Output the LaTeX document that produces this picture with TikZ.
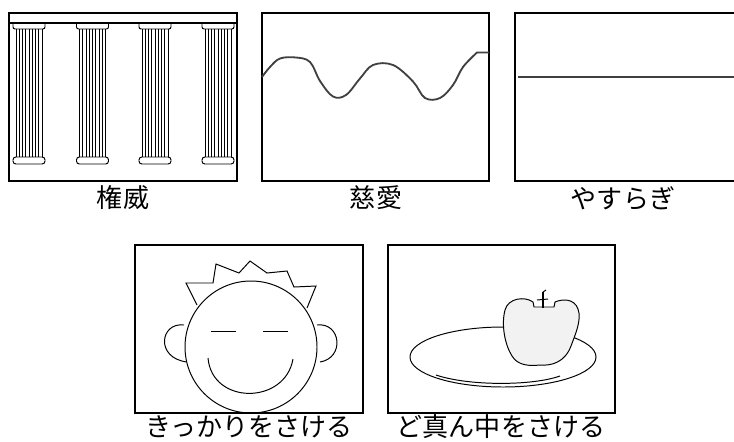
\documentclass[tikz,border=0pt]{standalone}
\usepackage{fontspec}
\newfontfamily\jpfont{Noto Sans CJK JP}
\usetikzlibrary{calc}

\begin{document}
\begin{tikzpicture}[x=0.025cm,y=-0.025cm,
    frame/.style={draw=black,line width=1.4pt},
    pen/.style={draw=black,line width=0.7pt},
    wave/.style={draw=black!75,line width=1.3pt},
    caption/.style={font=\jpfont\fontsize{18.5}{22}\selectfont}]
  \useasboundingbox (0,0) rectangle (734,441);

  % temple with four columns
  \draw[frame] (9,13) rectangle (237,181);
  \draw[pen,line width=1pt] (9,23) -- (237,23);
  \foreach \cx in {29,92.5,155,218} {
    \draw[pen,rounded corners=1.5] (\cx-16,23) -- (\cx-16,29) -- (\cx+16,29) -- (\cx+16,23);
    \foreach \dx in {-13,-9.75,...,13}
      \draw[pen,line width=0.65pt] (\cx+\dx,29) -- (\cx+\dx,157);
    \draw[pen,rounded corners=2] (\cx-16,157) rectangle (\cx+16,164);
  }
  \node[caption] (kenni) at (123,198) {権威};

  % gentle wave
  \draw[frame] (262,13) rectangle (489,181);
  \draw[wave] plot[smooth,tension=0.6] coordinates {(262,77) (270,67) (280,58.5)
    (296,57.5) (310,62) (320,81) (333,96.5) (346,95) (360,78.5) (373,65)
    (393,65) (413,81.5) (425,98) (440,98) (453,85) (463,67) (477,52.5)} -- (489,52.5);
  \node[caption] (jiai) at (376,198) {慈愛};

  % flat line
  \draw[frame] (734,13) -- (515,13) -- (515,181) -- (734,181);
  \draw[wave] (518,77) -- (734,77);
  \node[caption] (yasuragi) at (623,198) {やすらぎ};

  % smiling face
  \draw[frame] (135,245) rectangle (363,413);
  \draw[pen] (251,347) circle [radius=66];
  \draw[pen] (197,305) -- (186,283) -- (213,283) -- (216,264) -- (239,273) -- (250,261)
    -- (267,273) -- (287,271) -- (294,287) -- (316,286) -- (307,308);
  \draw[pen] (184,325) .. controls (160,322) and (155,358) .. (187,362);
  \draw[pen] (317,325) .. controls (341,322) and (345,358) .. (320,362);
  \draw[pen] (211,331) -- (236,331);
  \draw[pen] (263,331) -- (288,331);
  \draw[pen] (208,358) .. controls (212,405) and (285,405) .. (293,359);
  \node[caption] (kikkari) at (249,427) {きっかりをさける};

  % apple on a plate
  \draw[frame] (388,245) rectangle (615,413);
  \draw[pen] (503,357) ellipse [x radius=93,y radius=30];
  \draw[pen] (436,375) .. controls (468,386) and (532,386) .. (560,376);
  \draw[pen,fill=gray!10] (533,302) .. controls (525,296) and (508,298) .. (505,310)
    .. controls (501,325) and (505,345) .. (512,356)
    .. controls (518,366) and (530,366) .. (540,365)
    .. controls (552,366) and (565,362) .. (571,346)
    .. controls (575,335) and (582,320) .. (578,309)
    .. controls (574,298) and (562,299) .. (555,302)
    -- (554,307) -- (534,307) -- cycle;
  \draw[pen,line width=1pt] (543,292) -- (543,308);
  \draw[pen] (537,300) -- (548,299);
  \draw[pen] (543,292) -- (546,290);
  \node[caption] (mannaka) at (501,427) {ど真ん中をさける};
\end{tikzpicture}
\end{document}
